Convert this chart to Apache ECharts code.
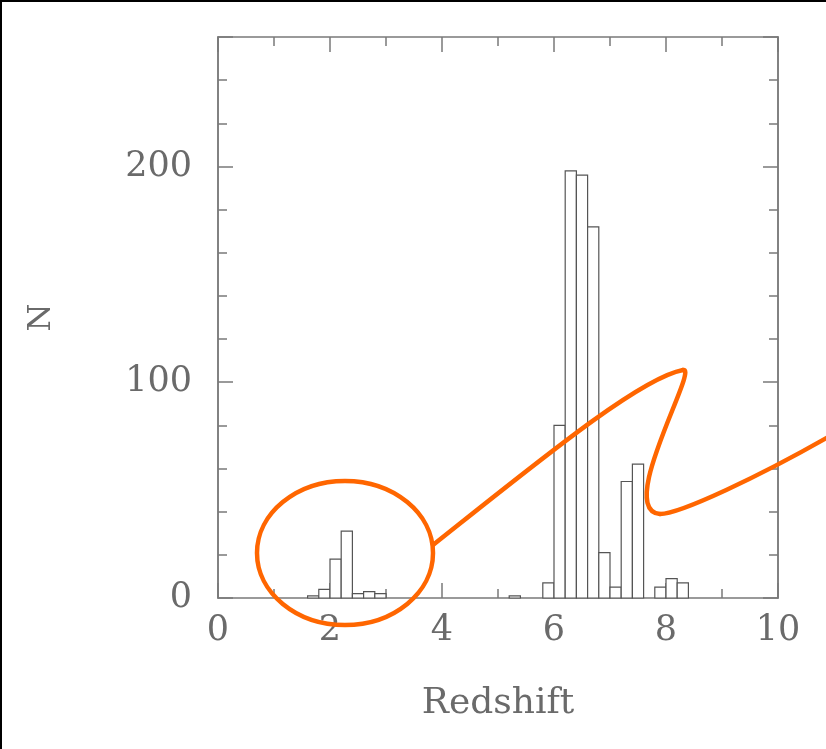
<!DOCTYPE html>
<html>
<head>
<meta charset="utf-8">
<script src="https://cdn.jsdelivr.net/npm/echarts@6/dist/echarts.min.js"></script>
<style>
html,body{margin:0;padding:0;background:#fff;}
#chart{width:826px;height:749px;}
</style>
</head>
<body>
<div id="chart"></div>
<script>
// Histogram bins (lower edge of each 0.2-wide redshift bin) and counts
const binStarts = [1.6, 1.8, 2.0, 2.2, 2.4, 2.6, 2.8, 5.2, 5.8, 6.0, 6.2, 6.4, 6.6, 6.8, 7.0, 7.2, 7.4, 7.8, 8.0, 8.2];
const counts    = [1,   4,   18,  31,  2,   3,   2,   1,   7,   80,  198, 196, 172, 21,  5,   54,  62,  5,   9,   7];
const BIN_WIDTH = 0.2;
const xTickLabels = ['0', '2', '4', '6', '8', '10'];
const yTickLabels = ['0', '100', '200'];
const xName = 'Redshift';
const yName = 'N';

const FONT = 'DejaVu Serif';
const TEXT_COLOR = '#6a6a6a';
const FRAME = '#7a7a7a';

const data = binStarts.map((b, i) => [b, counts[i]]);

const chart = echarts.init(document.getElementById('chart'));

function xAxisCfg(pos, showLabels) {
  return {
    type: 'value', position: pos, min: 0, max: 10, interval: 2,
    axisLine: { show: true, onZero: false, lineStyle: { color: FRAME, width: 1.5 } },
    axisTick: { show: true, inside: true, length: 15, lineStyle: { color: FRAME, width: 1.5 } },
    minorTick: { show: true, splitNumber: 2, length: 9, lineStyle: { color: FRAME, width: 1.5 } },
    splitLine: { show: false }, minorSplitLine: { show: false },
    axisLabel: showLabels ? {
      show: true, margin: 15, fontFamily: FONT, fontSize: 35, color: TEXT_COLOR,
      formatter: v => { const s = String(v); return xTickLabels.indexOf(s) >= 0 ? s : ''; }
    } : { show: false },
    name: showLabels ? xName : '',
    nameLocation: 'middle', nameGap: 88,
    nameTextStyle: { fontFamily: FONT, fontSize: 36, color: TEXT_COLOR }
  };
}

function yAxisCfg(pos, interval, tickLen, showLabels) {
  return {
    type: 'value', position: pos, min: 0, max: 260, interval: interval,
    axisLine: { show: true, onZero: false, lineStyle: { color: FRAME, width: 1.5 } },
    axisTick: { show: true, inside: true, length: tickLen, lineStyle: { color: FRAME, width: 1.5 } },
    splitLine: { show: false },
    axisLabel: showLabels ? {
      show: true, margin: 26, fontFamily: FONT, fontSize: 35, color: TEXT_COLOR,
      formatter: v => { const s = String(v); return yTickLabels.indexOf(s) >= 0 ? s : ''; }
    } : { show: false },
    name: showLabels ? yName : '',
    nameLocation: 'middle', nameGap: 160, nameRotate: 90,
    nameTextStyle: { fontFamily: FONT, fontSize: 32, color: TEXT_COLOR }
  };
}

const ORANGE = '#ff6600';
const ORANGE_W = 4.5;

const option = {
  backgroundColor: '#ffffff',
  animation: false,
  grid: { left: 218, right: 48, top: 37, bottom: 151, containLabel: false },
  xAxis: [xAxisCfg('bottom', true), xAxisCfg('top', false)],
  yAxis: [
    yAxisCfg('left', 20, 9, false),
    yAxisCfg('left', 100, 15, true),
    yAxisCfg('right', 20, 9, false),
    yAxisCfg('right', 100, 15, false)
  ],
  series: [{
    type: 'custom',
    xAxisIndex: 0, yAxisIndex: 0,
    data: data,
    renderItem: function (params, api) {
      const x0 = api.value(0);
      const y = api.value(1);
      const p0 = api.coord([x0, y]);
      const p1 = api.coord([x0 + BIN_WIDTH, 0]);
      return {
        type: 'rect',
        shape: { x: p0[0], y: p0[1], width: p1[0] - p0[0], height: p1[1] - p0[1] },
        style: { fill: '#ffffff', stroke: '#555555', lineWidth: 1.2 }
      };
    }
  }],
  graphic: [
    { type: 'line', shape: { x1: 0, y1: 1, x2: 826, y2: 1 }, style: { stroke: '#000', lineWidth: 2 }, z: 100 },
    { type: 'line', shape: { x1: 1, y1: 0, x2: 1, y2: 749 }, style: { stroke: '#000', lineWidth: 2 }, z: 100 },
    { type: 'ellipse', shape: { cx: 345, cy: 553, rx: 88, ry: 72 }, style: { fill: 'none', stroke: ORANGE, lineWidth: ORANGE_W }, z: 100 },
    { type: 'bezierCurve', shape: { x1: 433, y1: 545, cpx1: 540, cpy1: 460, cpx2: 640, cpy2: 378, x2: 683, y2: 370 }, style: { fill: 'none', stroke: ORANGE, lineWidth: ORANGE_W, lineCap: 'round' }, z: 100 },
    { type: 'bezierCurve', shape: { x1: 683, y1: 370, cpx1: 700, cpy1: 366, cpx2: 615, cpy2: 510, x2: 660, y2: 514 }, style: { fill: 'none', stroke: ORANGE, lineWidth: ORANGE_W, lineCap: 'round' }, z: 100 },
    { type: 'bezierCurve', shape: { x1: 660, y1: 514, cpx1: 680, cpy1: 514, cpx2: 760, cpy2: 476, x2: 830, y2: 436 }, style: { fill: 'none', stroke: ORANGE, lineWidth: ORANGE_W, lineCap: 'round' }, z: 100 }
  ]
};

chart.setOption(option);
</script>
</body>
</html>
